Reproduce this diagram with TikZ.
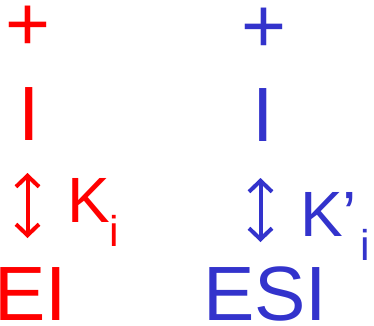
\documentclass[tikz,border=0pt]{standalone}
\usepackage{fontspec}
\setmainfont{Liberation Sans}
\usetikzlibrary{arrows.meta}
\definecolor{myred}{RGB}{255,0,0}
\definecolor{myblue}{RGB}{51,51,204}
\tikzset{
  big/.style={inner sep=0pt,font=\fontsize{77}{77}\selectfont},
  kfont/.style={inner sep=0pt,font=\fontsize{64}{64}\selectfont},
  subi/.style={inner sep=0pt,font=\fontsize{43}{43}\selectfont},
  eqarrow/.style={line width=4pt,{Straight Barb[length=11pt,width=23pt]}-{Straight Barb[length=11pt,width=23pt]}}
}
\begin{document}
\begin{tikzpicture}[x=1pt,y=-1pt]
\useasboundingbox (0,0) rectangle (374,325);
% red column
\node[big,text=myred,anchor=base] (plusL) at (28,50) {+};
\node[big,text=myred,anchor=base] (IL) at (29,140) {I};
\coordinate (aLt) at (27.5,173);
\coordinate (aLb) at (27.5,238);
\draw[myred,eqarrow] (aLt) -- (aLb);
\node[kfont,text=myred,anchor=base west] (KL) at (67,222) {K};
\node[subi,text=myred,anchor=base west] (iL) at (109,246) {i};
\node[big,text=myred,anchor=base west] (EI) at (-6,320) {EI};
% blue column
\node[big,text=myblue,anchor=base] (plusR) at (264,52) {+};
\node[big,text=myblue,anchor=base] (IR) at (263.5,141) {I};
\coordinate (aRt) at (260.5,178);
\coordinate (aRb) at (260.5,242);
\draw[myblue,eqarrow] (aRt) -- (aRb);
\node[kfont,text=myblue,anchor=base west] (KR) at (300,236) {K’};
\node[subi,text=myblue,anchor=base west] (iR) at (360,260) {i};
\node[big,text=myblue,anchor=base west] (ESI) at (203,320) {ESI};
\end{tikzpicture}
\end{document}
